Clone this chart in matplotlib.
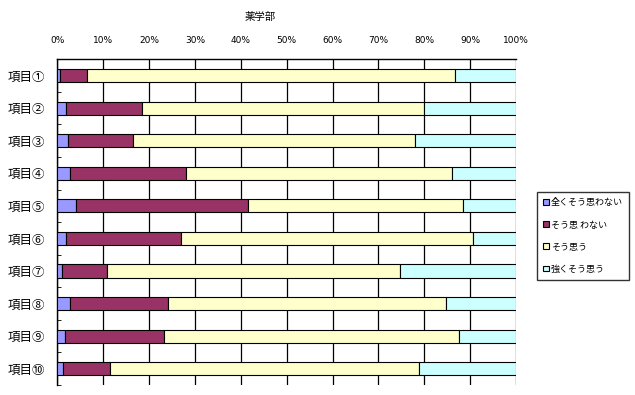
import numpy as np
import matplotlib.pyplot as plt
from matplotlib.patches import Patch

plt.rcParams['font.family'] = ['Noto Sans CJK JP', 'DejaVu Sans']

items = ["項目①", "項目②", "項目③", "項目④", "項目⑤",
         "項目⑥", "項目⑦", "項目⑧", "項目⑨", "項目⑩"]
series = ["全くそう思わない", "そう思わない", "そう思う", "強くそう思う"]
legend_labels = ["全くそう思わない", "そう思 わない", "そう思う", "強くそう思う"]

not_at_all = [0.5, 2.0, 2.4, 2.8, 4.1, 2.0, 1.1, 2.8, 1.7, 1.3]
disagree = [6.0, 16.5, 14.1, 25.2, 37.4, 25.0, 9.8, 21.3, 21.6, 10.2]
agree = [80.2, 61.5, 61.5, 58.1, 47.0, 63.7, 63.9, 60.7, 64.2, 67.4]
strongly = [13.3, 20.0, 22.0, 13.9, 11.5, 9.3, 25.2, 15.2, 12.5, 21.1]

colors = ["#9999FF", "#993366", "#FFFFCC", "#CCFFFF"]

fig = plt.figure(figsize=(6.35, 3.95), dpi=100)
ax = fig.add_axes([0.0902, 0.0253, 0.7224, 0.8246])

data = np.array([not_at_all, disagree, agree, strongly])
data = data / data.sum(axis=0) * 100
y = np.arange(len(items))
left = np.zeros(len(items))
for vals, c in zip(data, colors):
    ax.barh(y, vals, left=left, height=0.4, color=c, edgecolor="black", linewidth=0.8, zorder=3)
    left += vals

ax.set_xlim(0, 100)
ax.set_ylim(len(items) - 0.5, -0.5)
ax.set_xticks(np.arange(0, 101, 10))
ax.set_xticklabels([f"{v}%" for v in range(0, 101, 10)], fontsize=6.5, family=["DejaVu Sans"])
ax.xaxis.tick_top()
ax.tick_params(axis="x", length=0, pad=10)
ax.set_yticks(y)
ax.set_yticklabels(items, fontsize=9)
ax.set_yticks(np.arange(-0.5, len(items)), minor=True)
ax.tick_params(axis="y", which="major", length=0, pad=9)
ax.tick_params(axis="y", which="minor", direction="in", length=3, color="black")
ax.grid(axis="x", color="black", linewidth=0.9, zorder=0)
ax.spines["bottom"].set_visible(False)
ax.spines["right"].set_visible(False)
for s in ["top", "left"]:
    ax.spines[s].set_linewidth(1.0)

fig.text(260 / 635, 1 - 17 / 395, "薬学部", ha="center", va="center", fontsize=7.5)

handles = [Patch(facecolor=c, edgecolor="black", linewidth=0.8) for c in colors]
leg = fig.legend(handles, legend_labels, loc="upper left",
                 bbox_to_anchor=(537 / 635, 1 - 192 / 395),
                 fontsize=6.5, frameon=True, fancybox=False,
                 edgecolor="black", handlelength=0.6, handleheight=0.6,
                 handletextpad=0.25, labelspacing=1.45, borderpad=0.7,
                 borderaxespad=0)
leg.get_frame().set_linewidth(1.0)

fig.savefig("out.png", dpi=100)
